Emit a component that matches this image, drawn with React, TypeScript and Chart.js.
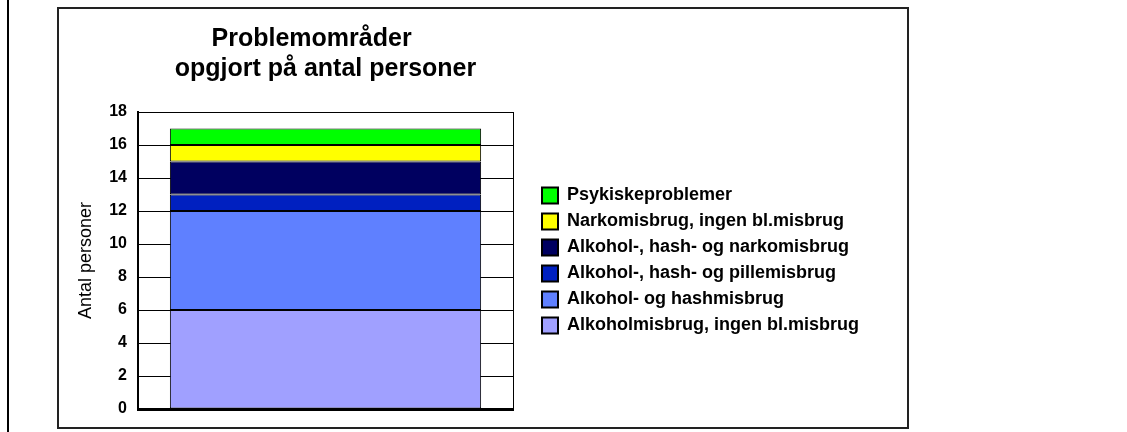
import React, { useEffect, useRef } from "react";
import { Chart, registerables } from "chart.js";

Chart.register(...registerables);

// ---- data ----
const categories = [""];
const seriesNames = [
  "Alkoholmisbrug, ingen bl.misbrug",
  "Alkohol- og hashmisbrug",
  "Alkohol-, hash- og pillemisbrug",
  "Alkohol-, hash- og narkomisbrug",
  "Narkomisbrug, ingen bl.misbrug",
  "Psykiskeproblemer",
];
const alkoholmisbrug = [6];
const alkoholHash = [6];
const alkoholHashPille = [1];
const alkoholHashNarko = [2];
const narkomisbrug = [1];
const psykiskeProblemer = [1];
const seriesValues = [
  alkoholmisbrug,
  alkoholHash,
  alkoholHashPille,
  alkoholHashNarko,
  narkomisbrug,
  psykiskeProblemer,
];
const seriesColors = ["#A0A0FF", "#5F80FF", "#0020C0", "#000060", "#FFFF00", "#00FF00"];
const titleLines = ["Problemområder    ", "opgjort på antal personer"];
const yAxisTitle = "Antal personer";
const yMin = 0;
const yMax = 18;
const yStep = 2;

const FONT = "'Liberation Sans', Arial, Helvetica, sans-serif";
const LEGEND_SIZE = 18;
const LEGEND_PAD = 8;
const LEGEND_BOX = 16;

export default function App() {
  const canvasRef = useRef<HTMLCanvasElement | null>(null);

  useEffect(() => {
    const canvas = canvasRef.current;
    if (!canvas) return;
    const ctx = canvas.getContext("2d")!;
    ctx.font = `bold ${LEGEND_SIZE}px ${FONT}`;
    const maxText = Math.max(...seriesNames.map((n) => ctx.measureText(n).width));
    const legendWidth = LEGEND_PAD + LEGEND_BOX + LEGEND_SIZE / 2 + maxText + 10;
    const dummyWidth = 21;
    const plotRight = 513;
    const padRight = Math.max(0, 1127 - plotRight - dummyWidth - legendWidth);

    const chart = new Chart(canvas, {
      type: "bar",
      data: {
        labels: categories,
        datasets: seriesNames.map((name, i) => ({
          label: name,
          data: seriesValues[i],
          backgroundColor: seriesColors[i],
          borderColor: "#000",
          borderWidth: 1,
          borderSkipped: false,
          barPercentage: 0.83,
          categoryPercentage: 1,
        })),
      },
      options: {
        responsive: false,
        animation: false,
        devicePixelRatio: 1,
        layout: { padding: { left: 60, top: 10, right: padRight, bottom: 23 } },
        scales: {
          x: {
            stacked: true,
            ticks: { display: false },
            grid: { display: true, color: "#000", lineWidth: 1, drawTicks: false, offset: true },
            border: { display: true, color: "#000", width: 3 },
            afterFit: (s: any) => {
              s.height = 0;
            },
          },
          y: {
            stacked: true,
            min: yMin,
            max: yMax,
            ticks: {
              stepSize: yStep,
              color: "#000",
              padding: 11,
              font: { family: FONT, size: 16, weight: "bold" },
            },
            grid: { color: "#000", lineWidth: 1, drawTicks: false },
            border: { display: true, color: "#000", width: 2 },
            title: {
              display: true,
              text: yAxisTitle,
              color: "#000",
              font: { family: FONT, size: 18, weight: "normal" },
              padding: { top: 15, bottom: 0 },
            },
            afterFit: (s: any) => {
              s.width = 78;
            },
          },
          yR: {
            position: "right",
            display: true,
            ticks: { display: false },
            grid: { display: false, drawTicks: false },
            border: { display: false },
            afterFit: (s: any) => {
              s.width = dummyWidth;
            },
          },
        },
        plugins: {
          tooltip: { enabled: false },
          title: {
            display: true,
            text: titleLines,
            fullSize: false,
            color: "#000",
            font: { family: FONT, size: 25, weight: "bold", lineHeight: 1.2 },
            padding: { top: 14, bottom: 28 },
          },
          legend: {
            display: true,
            position: "right",
            fullSize: false,
            align: "center",
            reverse: true,
            maxWidth: 1000,
            labels: {
              color: "#000",
              boxWidth: LEGEND_BOX,
              boxHeight: LEGEND_BOX,
              padding: LEGEND_PAD,
              font: { family: FONT, size: LEGEND_SIZE, weight: "bold" },
              generateLabels: (c: any) =>
                (Chart.defaults.plugins.legend.labels as any)
                  .generateLabels(c)
                  .map((l: any) => ({ ...l, lineWidth: 2, strokeStyle: "#000" })),
            },
          },
        },
      } as any,
    });
    return () => chart.destroy();
  }, []);

  return (
    <div
      style={{
        position: "fixed",
        left: 0,
        top: 0,
        width: 1127,
        height: 432,
        background: "#fff",
        overflow: "hidden",
      }}
    >
      <div style={{ position: "absolute", left: 7, top: 0, width: 2, height: 432, background: "#000" }} />
      <div
        style={{
          position: "absolute",
          left: 57,
          top: 7,
          width: 852,
          height: 422,
          border: "2px solid #222",
          boxSizing: "border-box",
        }}
      />
      <canvas
        ref={canvasRef}
        width={1127}
        height={432}
        style={{ position: "absolute", left: 0, top: 0, width: 1127, height: 432, display: "block" }}
      />
    </div>
  );
}
